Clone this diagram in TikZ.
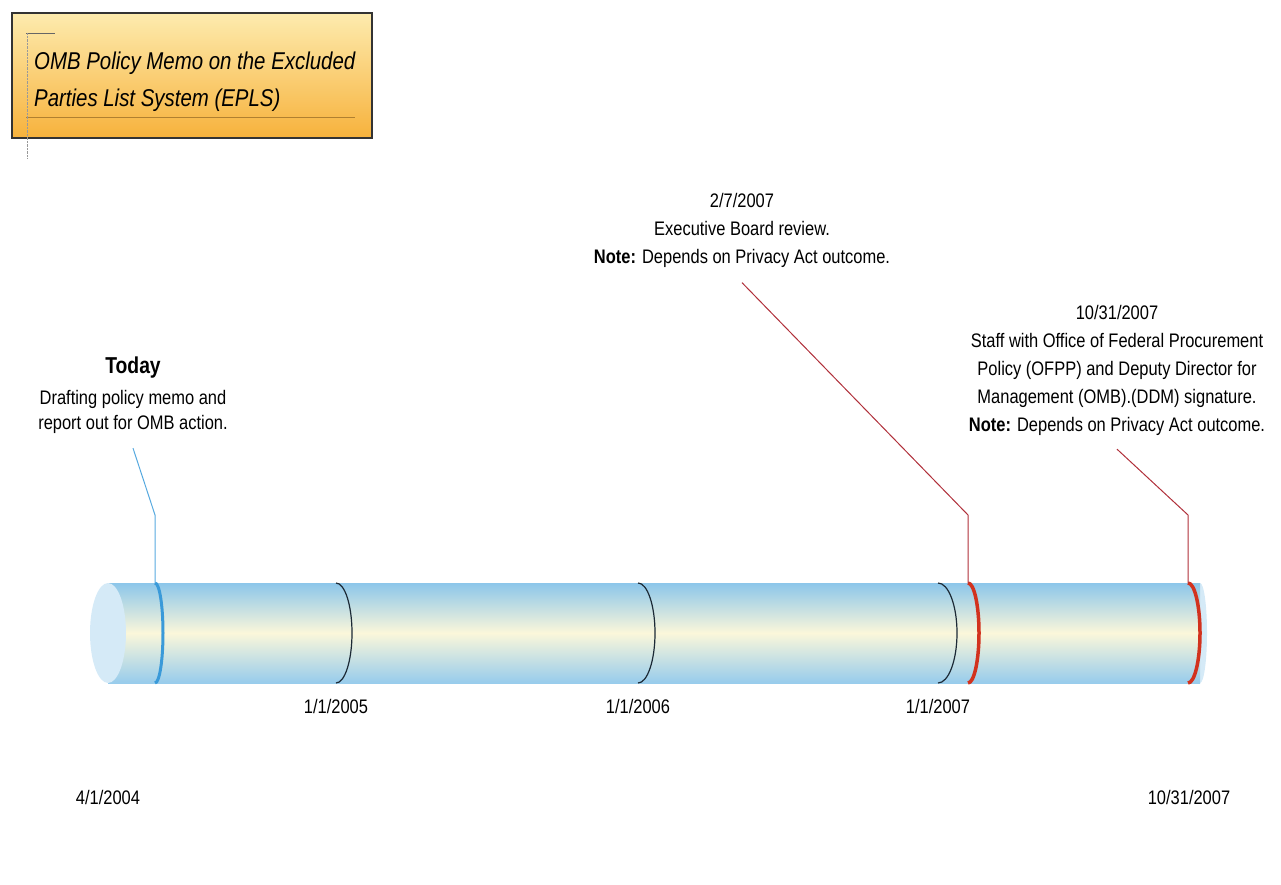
\documentclass[tikz,border=0pt]{standalone}
\usepackage{fontspec}
\setmainfont[FakeStretch=0.84]{Liberation Sans}
\usetikzlibrary{positioning}

\definecolor{tubeblue}{HTML}{8CC6EA}
\definecolor{tubecream}{HTML}{FBF7DA}
\definecolor{capblue}{HTML}{D5EAF7}
\definecolor{todayblue}{HTML}{3A9AD9}
\definecolor{duered}{HTML}{D2321E}
\definecolor{leadred}{HTML}{B0303A}
\definecolor{yearink}{HTML}{1C2A36}
\definecolor{boxtop}{HTML}{FDEBAE}
\definecolor{boxbot}{HTML}{F7B23C}
\definecolor{boxrule}{HTML}{B08030}

\begin{document}
\begin{tikzpicture}[x=1pt,y=1pt,
	note/.style={align=center,inner sep=0pt,font=\fontsize{19.6}{28}\selectfont},
	datelabel/.style={inner sep=0pt,font=\fontsize{19.6}{23}\selectfont},
	yearring/.style={yearink,line width=1.2pt},
	todayring/.style={todayblue,line width=3pt},
	dueringstyle/.style={duered,line width=3.5pt},
	todaylead/.style={todayblue!85,line width=1pt},
	duelead/.style={leadred,line width=1pt}]
	\useasboundingbox (0,0) rectangle (1281,884);

	% title box
	\node[draw=black!80,line width=1.2pt,top color=boxtop,bottom color=boxbot,
		minimum width=360pt,minimum height=125pt,inner sep=0pt] (titlebox) at (192,808.5) {};
	\draw[boxrule] (26,767) -- (355,767);
	\draw[black!60] (26,851) -- (55,851);
	\draw[black!40,densely dotted] (27,851) -- (27,726);
	\node[anchor=west,align=left,inner sep=0pt,font=\fontsize{24.3}{37}\selectfont\itshape] (titletext) at (34,802.5)
		{OMB Policy Memo on the Excluded\\Parties List System (EPLS)};

	% the tube
	\fill[capblue] (1200,301) arc (90:-90:7pt and 50pt) -- cycle;
	\shade[top color=tubeblue,bottom color=tubeblue!90!white,middle color=tubecream] (108,201) rectangle (1200,301);
	\fill[capblue] (108,251) ellipse (18pt and 50pt);

	% year rings and dates
	\foreach \x/\r/\n in {336/16/2005, 638/17/2006, 938/19/2007}
	{
		\coordinate (ring\n) at (\x,301);
		\draw[yearring] (ring\n) arc (90:-90:\r pt and 50pt) coordinate (foot\n);
		\node[datelabel,below=16pt of foot\n] (year\n) {1/1/\n};
	}

	% milestone rings
	\coordinate (todayring) at (155,301);
	\coordinate (boardring) at (968,301);
	\coordinate (signring) at (1188,301);
	\draw[todayring] (todayring) arc (90:-90:8pt and 50pt);
	\draw[dueringstyle] (boardring) arc (90:-90:11pt and 50pt);
	\draw[dueringstyle] (signring) arc (90:-90:12pt and 50pt);

	% milestone notes
	\node[note,anchor=north] (today) at (133,527)
		{{\fontsize{23}{28}\selectfont\bfseries Today}\\[3pt]Drafting policy memo and\\[-3pt]report out for OMB action.};
	\node[note,anchor=north] (board) at (742,691)
		{2/7/2007\\Executive Board review.\\\textbf{Note:} Depends on Privacy Act outcome.};
	\node[note,anchor=north] (sign) at (1117,578.5)
		{10/31/2007\\Staff with Office of Federal Procurement\\Policy (OFPP) and Deputy Director for\\Management (OMB).(DDM) signature.\\\textbf{Note:} Depends on Privacy Act outcome.};

	\coordinate[below=14pt of today] (todayfoot);
	\coordinate[below=15pt of board] (boardfoot);
	\coordinate[below=13pt of sign] (signfoot);
	\draw[todaylead] (todayfoot) -- (155,369) -- (todayring);
	\draw[duelead] (boardfoot) -- (968,369) -- (boardring);
	\draw[duelead] (signfoot) -- (1188,369) -- (signring);

	% range ends
	\node[datelabel] (startdate) at (108,87) {4/1/2004};
	\node[datelabel] (enddate) at (1189,87) {10/31/2007};
\end{tikzpicture}
\end{document}
